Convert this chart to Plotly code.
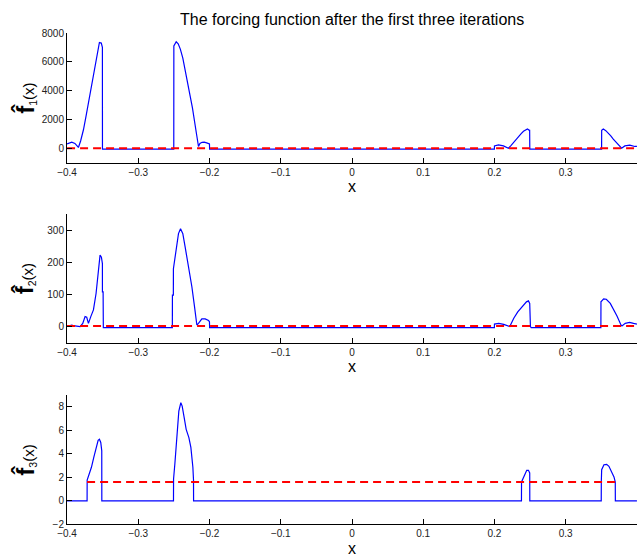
import plotly.graph_objects as go

# ---- data ----
f1_x = [-0.4, -0.3965, -0.3934, -0.389, -0.3841, -0.381, -0.377, -0.3735, -0.370, -0.3665, -0.363, -0.3605,
        -0.358, -0.3563, -0.3546, -0.352, -0.3504, -0.3503, -0.347,
        -0.2502, -0.2501, -0.2468, -0.244, -0.241, -0.2375, -0.2342, -0.2305, -0.2272, -0.224, -0.221, -0.218,
        -0.2155, -0.2135, -0.2105, -0.2075, -0.204, -0.2005, -0.2001, -0.1999,
        0.1999, 0.2, 0.2056, 0.2126, 0.2196, 0.2231, 0.2266, 0.2301, 0.2336, 0.2372, 0.2407, 0.2463, 0.249, 0.2494, 0.2496,
        0.3504, 0.3505, 0.3528, 0.3563, 0.3598, 0.3633, 0.3668, 0.3703, 0.3738, 0.3785, 0.383, 0.390, 0.397, 0.4]
f1_y = [300, 390, 420, 330, 50, 500, 1280, 2200, 3150, 4100, 5010, 5750,
        6410, 6950, 7340, 7300, 7000, -70, -70,
        -70, 7100, 7390, 7250, 6880, 6250, 5480, 4550, 3610, 2800, 1980, 900,
        120, 330, 410, 420, 370, 300, 300, -70,
        -70, 160, 230, 160, 0, 180, 400, 610, 820, 1000, 1170, 1330, 1240, 1240, -70,
        -70, 1240, 1330, 1220, 1050, 850, 630, 420, 230, 0, 160, 210, 120, 120]

f2_x = [-0.4, -0.3934, -0.389, -0.3817, -0.378, -0.3747, -0.3724, -0.370, -0.3667, -0.363, -0.3593, -0.356,
        -0.3537, -0.3518, -0.3504, -0.35035, -0.3494, -0.3491, -0.347,
        -0.2522, -0.2521, -0.2508, -0.2507, -0.2482, -0.2459, -0.2436, -0.2407, -0.2375, -0.2342, -0.2295,
        -0.2248, -0.2211, -0.2178, -0.2155, -0.2108, -0.2061, -0.2014, -0.2001, -0.1999,
        0.1999, 0.2, 0.206, 0.213, 0.2215, 0.2271, 0.2327, 0.2388, 0.2449, 0.2477, 0.2495, 0.2505, 0.2515,
        0.3494, 0.3495, 0.3533, 0.357, 0.3626, 0.3673, 0.372, 0.3776, 0.379, 0.3836, 0.3897, 0.3953, 0.4]
f2_y = [1, 5, 2, 0, 10, 31, 29, 10, 31, 52, 103, 186,
        222, 216, 196, 108, 108, -3, -3,
        -3, 98, 98, 180, 216, 258, 289, 304, 289, 247, 186,
        124, 62, 5, 10, 24, 24, 19, 15, -3,
        -3, 8, 10, 7, 0, 26, 46, 62, 77, 80, 72, 0, -3,
        -3, 77, 86, 85, 72, 54, 33, 5, 2, 10, 13, 10, 8]

f3_x = [-0.4, -0.3719, -0.3718, -0.3696, -0.3658, -0.3625, -0.3593, -0.3564, -0.3546, -0.3527, -0.3513, -0.3512,
        -0.2506, -0.2505, -0.2487, -0.2459, -0.2431, -0.2403, -0.2384, -0.2356, -0.2328, -0.229, -0.2262,
        -0.2234, -0.2225, -0.2224,
        0.2379, 0.238, 0.2402, 0.243, 0.2453, 0.2477, 0.2495, 0.2496,
        0.3499, 0.35, 0.3505, 0.3537, 0.3575, 0.3607, 0.3645, 0.3678, 0.3696, 0.3697, 0.4]
f3_y = [0, 0, 1.77, 2.14, 2.85, 3.69, 4.54, 5.15, 5.24, 4.96, 4.25, 0,
        0, 1.86, 3.13, 5.66, 7.63, 8.34, 8.06, 7.07, 6.08, 5.38, 4.54,
        2.85, 1.77, 0,
        0, 1.6, 1.89, 2.31, 2.59, 2.59, 2.37, 0,
        0, 1.6, 2.65, 3.07, 3.1, 2.93, 2.45, 2.03, 1.6, 0, 0]

red_x = [[-0.4, 0.4], [-0.4, 0.4], [-0.3719, 0.3696]]
red_y = [[0, 0], [2, 2], [1.6, 1.6]]

y_ranges = [[-1000, 8000], [-50, 350], [-2, 9]]
y_ticks = [[0, 2000, 4000, 6000, 8000], [0, 100, 200, 300], [-2, 0, 2, 4, 6, 8]]
x_ticks = [-0.4, -0.3, -0.2, -0.1, 0, 0.1, 0.2, 0.3, 0.4]
x_ticktext = ["\u22120.4", "\u22120.3", "\u22120.2", "\u22120.1", "0", "0.1", "0.2", "0.3", "0.4"]
y_labels = ["1", "2", "3"]
title = "The forcing function after the first three iterations"

# ---- layout geometry ----
W, H = 644, 557
xdom = [67 / W, 637 / W]
ydoms = [[1 - 162.6 / H, 1 - 33 / H], [1 - 342.7 / H, 1 - 214 / H], [1 - 524.3 / H, 1 - 395 / H]]

FONT = "Liberation Sans, Arial, Helvetica, sans-serif"
fig = go.Figure()
series = [(f1_x, f1_y), (f2_x, f2_y), (f3_x, f3_y)]
layout = dict(width=W, height=H, margin=dict(l=0, r=0, t=0, b=0, autoexpand=False), showlegend=False,
              plot_bgcolor="white", paper_bgcolor="white", template="none",
              font=dict(family=FONT, size=10, color="#222"))
annotations = []
for i, (sx, sy) in enumerate(series):
    xa = "x" if i == 0 else f"x{i+1}"
    ya = "y" if i == 0 else f"y{i+1}"
    fig.add_trace(go.Scatter(x=sx, y=sy, mode="lines", line=dict(color="#0000ff", width=1.2),
                             xaxis=xa, yaxis=ya))
    fig.add_trace(go.Scatter(x=red_x[i], y=red_y[i], mode="lines",
                             line=dict(color="#ff0000", width=2, dash="8px,5px"),
                             xaxis=xa, yaxis=ya))
    xk = "xaxis" if i == 0 else f"xaxis{i+1}"
    yk = "yaxis" if i == 0 else f"yaxis{i+1}"
    layout[xk] = dict(domain=xdom, anchor=ya, range=[-0.4001, 0.4001], tickvals=x_ticks, ticktext=x_ticktext,
                      ticks="inside", ticklen=5, tickcolor="black", showline=True, linecolor="black",
                      linewidth=1, showgrid=False, zeroline=False, automargin=False,
                      title=dict(text="x", font=dict(size=16, color="black"), standoff=4))
    layout[yk] = dict(domain=ydoms[i], anchor=xa, range=y_ranges[i], tickvals=y_ticks[i],
                      ticks="inside", ticklen=5, tickcolor="black", showline=True, linecolor="black",
                      linewidth=1, showgrid=False, zeroline=False, automargin=False)
    annotations.append(dict(xref="paper", yref="paper", x=25 / W, y=sum(ydoms[i]) / 2,
                            xanchor="center", yanchor="middle",
                            text=f"<b><span style='font-size:24px'>f̂</span></b><sub>{y_labels[i]}</sub>(x)",
                            textangle=-90, showarrow=False, font=dict(size=15, color="black")))
annotations.append(dict(xref="paper", yref="paper", x=352 / W, y=1 - 19 / H, xanchor="center",
                        yanchor="middle", text=title, showarrow=False, font=dict(size=16, color="black")))
layout["annotations"] = annotations
fig.update_layout(**layout)
fig.write_html("out.html")
